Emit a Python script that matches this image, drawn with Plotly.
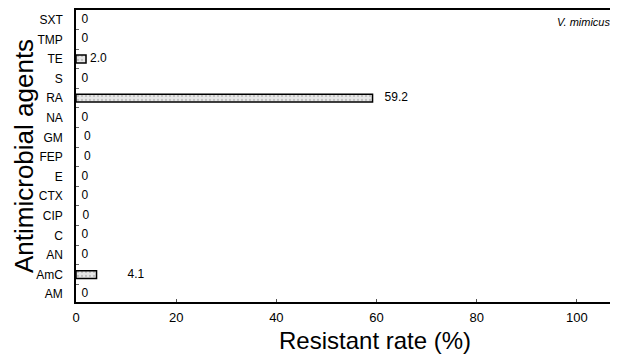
import plotly.graph_objects as go

agents = ["AM", "AmC", "AN", "C", "CIP", "CTX", "E", "FEP", "GM", "NA", "RA", "S", "TE", "TMP", "SXT"]
rates = [0, 4.1, 0, 0, 0, 0, 0, 0, 0, 0, 59.2, 0, 2.0, 0, 0]
labels = ["0", "4.1", "0", "0", "0", "0", "0", "0", "0", "0", "59.2", "0", "2.0", "0", "0"]
label_pad = [1.1, 6.2, 1.1, 1.1, 1.3, 1.1, 1.1, 1.6, 1.6, 1.1, 2.4, 1.1, 0.8, 1.1, 1.1]
x_ticks = [0, 20, 40, 60, 80, 100]

FONT = "Liberation Sans, Arial, sans-serif"

fig = go.Figure()
fig.add_trace(go.Bar(
    y=agents, x=rates, orientation="h", width=0.4,
    marker=dict(color="#e4e4e4",
                line=dict(color="black", width=[1.5 if r > 0 else 0 for r in rates]),
                pattern=dict(shape=".", fgcolor="#9a9a9a", bgcolor="#e8e8e8", size=4, solidity=0.25)),
    showlegend=False, hoverinfo="skip",
))
fig.add_trace(go.Scatter(
    y=agents, x=[r + p for r, p in zip(rates, label_pad)], mode="text",
    text=labels, textposition="middle right",
    textfont=dict(size=12, color="black", family=FONT),
    showlegend=False, hoverinfo="skip", cliponaxis=False,
))
fig.add_annotation(x=1, y=1, xref="paper", yref="paper", xanchor="right", yanchor="top",
                   xshift=-6, yshift=-4, showarrow=False, text="<i>V. mimicus</i>",
                   font=dict(size=11, color="black", family=FONT))
fig.add_annotation(x=0, y=0.5, xref="paper", yref="paper", xanchor="center", yanchor="middle",
                   xshift=-52, yshift=0, showarrow=False, textangle=-90,
                   text="Antimicrobial agents", font=dict(size=26, color="black", family=FONT))
fig.add_annotation(x=0, y=0, xref="paper", yref="paper", xanchor="center", yanchor="middle",
                   xshift=299, yshift=-38, showarrow=False,
                   text="Resistant rate (%)", font=dict(size=24, color="black", family=FONT))

fig.update_layout(
    width=610, height=353,
    margin=dict(l=68, r=0, t=2, b=59, autoexpand=False),
    plot_bgcolor="white", paper_bgcolor="white",
    font=dict(family=FONT, color="black", size=12),
)
fig.update_xaxes(
    range=[0, 108.2], tickvals=x_ticks, ticktext=[str(t) for t in x_ticks],
    showline=True, linecolor="black", linewidth=1.5, mirror=True,
    showgrid=False, zeroline=False, ticks="inside", ticklen=3, tickcolor="#555",
    tickfont=dict(size=13), ticklabelstandoff=3, automargin=False,
)
fig.update_yaxes(
    categoryorder="array", categoryarray=agents, range=[-0.4, 14.5],
    showline=True, linecolor="black", linewidth=1.5, showgrid=False, zeroline=False,
    ticks="inside", ticklen=3, tickcolor="#666", tickwidth=1, tickson="boundaries",
    tickfont=dict(size=12), ticklabelstandoff=9, automargin=False,
)
fig.write_html("out.html")
